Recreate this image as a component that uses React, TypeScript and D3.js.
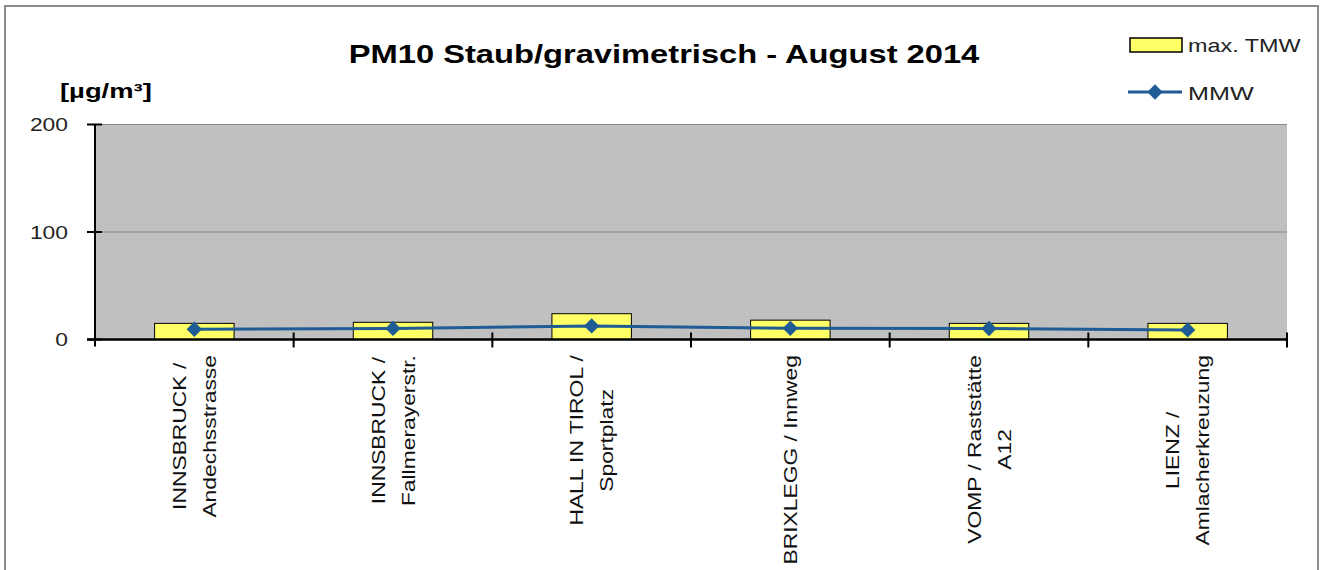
import React, { useRef, useEffect } from 'react';
import * as d3 from 'd3';

const stations = [
  ['INNSBRUCK /', 'Andechsstrasse'],
  ['INNSBRUCK /', 'Fallmerayerstr.'],
  ['HALL IN TIROL /', 'Sportplatz'],
  ['BRIXLEGG / Innweg'],
  ['VOMP / Raststätte', 'A12'],
  ['LIENZ /', 'Amlacherkreuzung'],
];
const maxTMW = [15, 16, 24, 18, 15, 15];
const mmw = [9.5, 10.3, 12.6, 10.4, 10.2, 8.9];
const yTicks = [0, 100, 200];

const FONT = '"Liberation Sans", Arial, sans-serif';

const App = () => {
  const svgRef = useRef<SVGSVGElement | null>(null);

  useEffect(() => {
    const svg = d3.select(svgRef.current);
    svg.selectAll('*').remove();

    const left = 95, right = 1287, top = 124.5, bottom = 339.5;
    const keys = stations.map((_, i) => String(i));

    const x = d3.scaleBand().domain(keys).range([left, right]).padding(0);
    const y = d3.scaleLinear().domain([0, 200]).range([bottom, top]);

    // outer frame
    svg.append('rect')
      .attr('x', 5).attr('y', 6).attr('width', 1313).attr('height', 600)
      .attr('fill', 'white').attr('stroke', '#8c8c8c').attr('stroke-width', 2);

    // plot area
    svg.append('rect')
      .attr('x', left).attr('y', top).attr('width', right - left).attr('height', bottom - top)
      .attr('fill', '#c0c0c0');

    svg.selectAll('.grid')
      .data(yTicks.filter(d => d > 0))
      .enter()
      .append('line')
      .attr('x1', left).attr('x2', right)
      .attr('y1', d => y(d)).attr('y2', d => y(d))
      .attr('stroke', '#868686').attr('stroke-width', 1);

    // bars
    svg.selectAll('.bar')
      .data(maxTMW)
      .enter()
      .append('rect')
      .attr('x', (d, i) => x(String(i))! + x.bandwidth() * 0.3)
      .attr('width', x.bandwidth() * 0.4)
      .attr('y', d => y(d))
      .attr('height', d => bottom - y(d))
      .attr('fill', '#ffff66')
      .attr('stroke', 'black').attr('stroke-width', 1);

    // axes
    svg.append('line')
      .attr('x1', left).attr('x2', left).attr('y1', top).attr('y2', bottom + 7)
      .attr('stroke', 'black').attr('stroke-width', 2);
    svg.append('line')
      .attr('x1', left - 8).attr('x2', right).attr('y1', bottom).attr('y2', bottom)
      .attr('stroke', 'black').attr('stroke-width', 2.5);

    svg.selectAll('.ytick')
      .data(yTicks)
      .enter()
      .append('line')
      .attr('x1', left - 8).attr('x2', left + 7)
      .attr('y1', d => y(d)).attr('y2', d => y(d))
      .attr('stroke', 'black').attr('stroke-width', 2);

    svg.selectAll('.ylab')
      .data(yTicks)
      .enter()
      .append('text')
      .attr('transform', d => `translate(68,${y(d) + 6.5}) scale(1.27,1)`)
      .attr('text-anchor', 'end')
      .style('font-family', FONT)
      .style('font-size', '18px')
      .attr('fill', '#222')
      .text(d => d);

    const bounds = keys.map(k => x(k)!).concat([right]);
    svg.selectAll('.xtick')
      .data(bounds.slice(1))
      .enter()
      .append('line')
      .attr('x1', d => d).attr('x2', d => d)
      .attr('y1', bottom - 7).attr('y2', bottom + 8)
      .attr('stroke', 'black').attr('stroke-width', 2);

    // MMW line
    const line = d3.line<number>()
      .x((d, i) => x(String(i))! + x.bandwidth() / 2)
      .y(d => y(d));
    svg.append('path')
      .datum(mmw)
      .attr('d', line)
      .attr('fill', 'none')
      .attr('stroke', '#1f5b94')
      .attr('stroke-width', 3);

    const diamond = d3.symbol().type(d3.symbolDiamond2).size(150);
    svg.selectAll('.pt')
      .data(mmw)
      .enter()
      .append('path')
      .attr('d', diamond)
      .attr('transform', (d, i) => `translate(${x(String(i))! + x.bandwidth() / 2},${y(d)})`)
      .attr('fill', '#1f5b94');

    // category labels
    const lineGap = 30;
    const stretch = 1.27;
    stations.forEach((lines, i) => {
      const cx = x(String(i))! + x.bandwidth() / 2;
      const g = svg.append('g');
      const texts = lines.map((t, j) => {
        const bx = cx + (j - (lines.length - 1) / 2) * lineGap + 6.5;
        return g.append('text')
          .attr('text-anchor', 'middle')
          .style('font-family', FONT)
          .style('font-size', '18px')
          .attr('fill', '#111')
          .attr('data-bx', bx)
          .text(t);
      });
      const maxLen = d3.max(texts, t => (t.node() as SVGTextElement).getComputedTextLength() * stretch) || 0;
      const cy = 355 + maxLen / 2;
      texts.forEach(t => {
        const bx = +t.attr('data-bx');
        t.attr('transform', `translate(${bx},${cy}) rotate(-90) scale(${stretch},1)`);
      });
    });

    // title and unit
    svg.append('text')
      .attr('transform', 'translate(664,63) scale(1.257,1)')
      .attr('text-anchor', 'middle')
      .style('font-family', FONT)
      .style('font-size', '26px')
      .style('font-weight', 'bold')
      .text('PM10 Staub/gravimetrisch - August 2014');

    svg.append('text')
      .attr('transform', 'translate(60,98) scale(1.37,1)')
      .style('font-family', FONT)
      .style('font-size', '20px')
      .style('font-weight', 'bold')
      .text('[µg/m³]');

    // legend
    svg.append('rect')
      .attr('x', 1130).attr('y', 38).attr('width', 52).attr('height', 14)
      .attr('fill', '#ffff66').attr('stroke', 'black').attr('stroke-width', 1.5);
    svg.append('text')
      .attr('transform', 'translate(1188,52) scale(1.3,1)')
      .style('font-family', FONT)
      .style('font-size', '18px')
      .attr('fill', '#222')
      .text('max. TMW');

    svg.append('line')
      .attr('x1', 1128).attr('x2', 1182).attr('y1', 92).attr('y2', 92)
      .attr('stroke', '#1f5b94').attr('stroke-width', 3);
    svg.append('path')
      .attr('d', diamond)
      .attr('transform', 'translate(1155,92)')
      .attr('fill', '#1f5b94');
    svg.append('text')
      .attr('transform', 'translate(1188,100) scale(1.4,1)')
      .style('font-family', FONT)
      .style('font-size', '18px')
      .attr('fill', '#222')
      .text('MMW');

    return () => {
      svg.selectAll('*').remove();
    };
  }, []);

  return (
    <svg
      ref={svgRef}
      width={1324}
      height={570}
      style={{ position: 'absolute', left: 0, top: 0, display: 'block' }}
    />
  );
};

export default App;
